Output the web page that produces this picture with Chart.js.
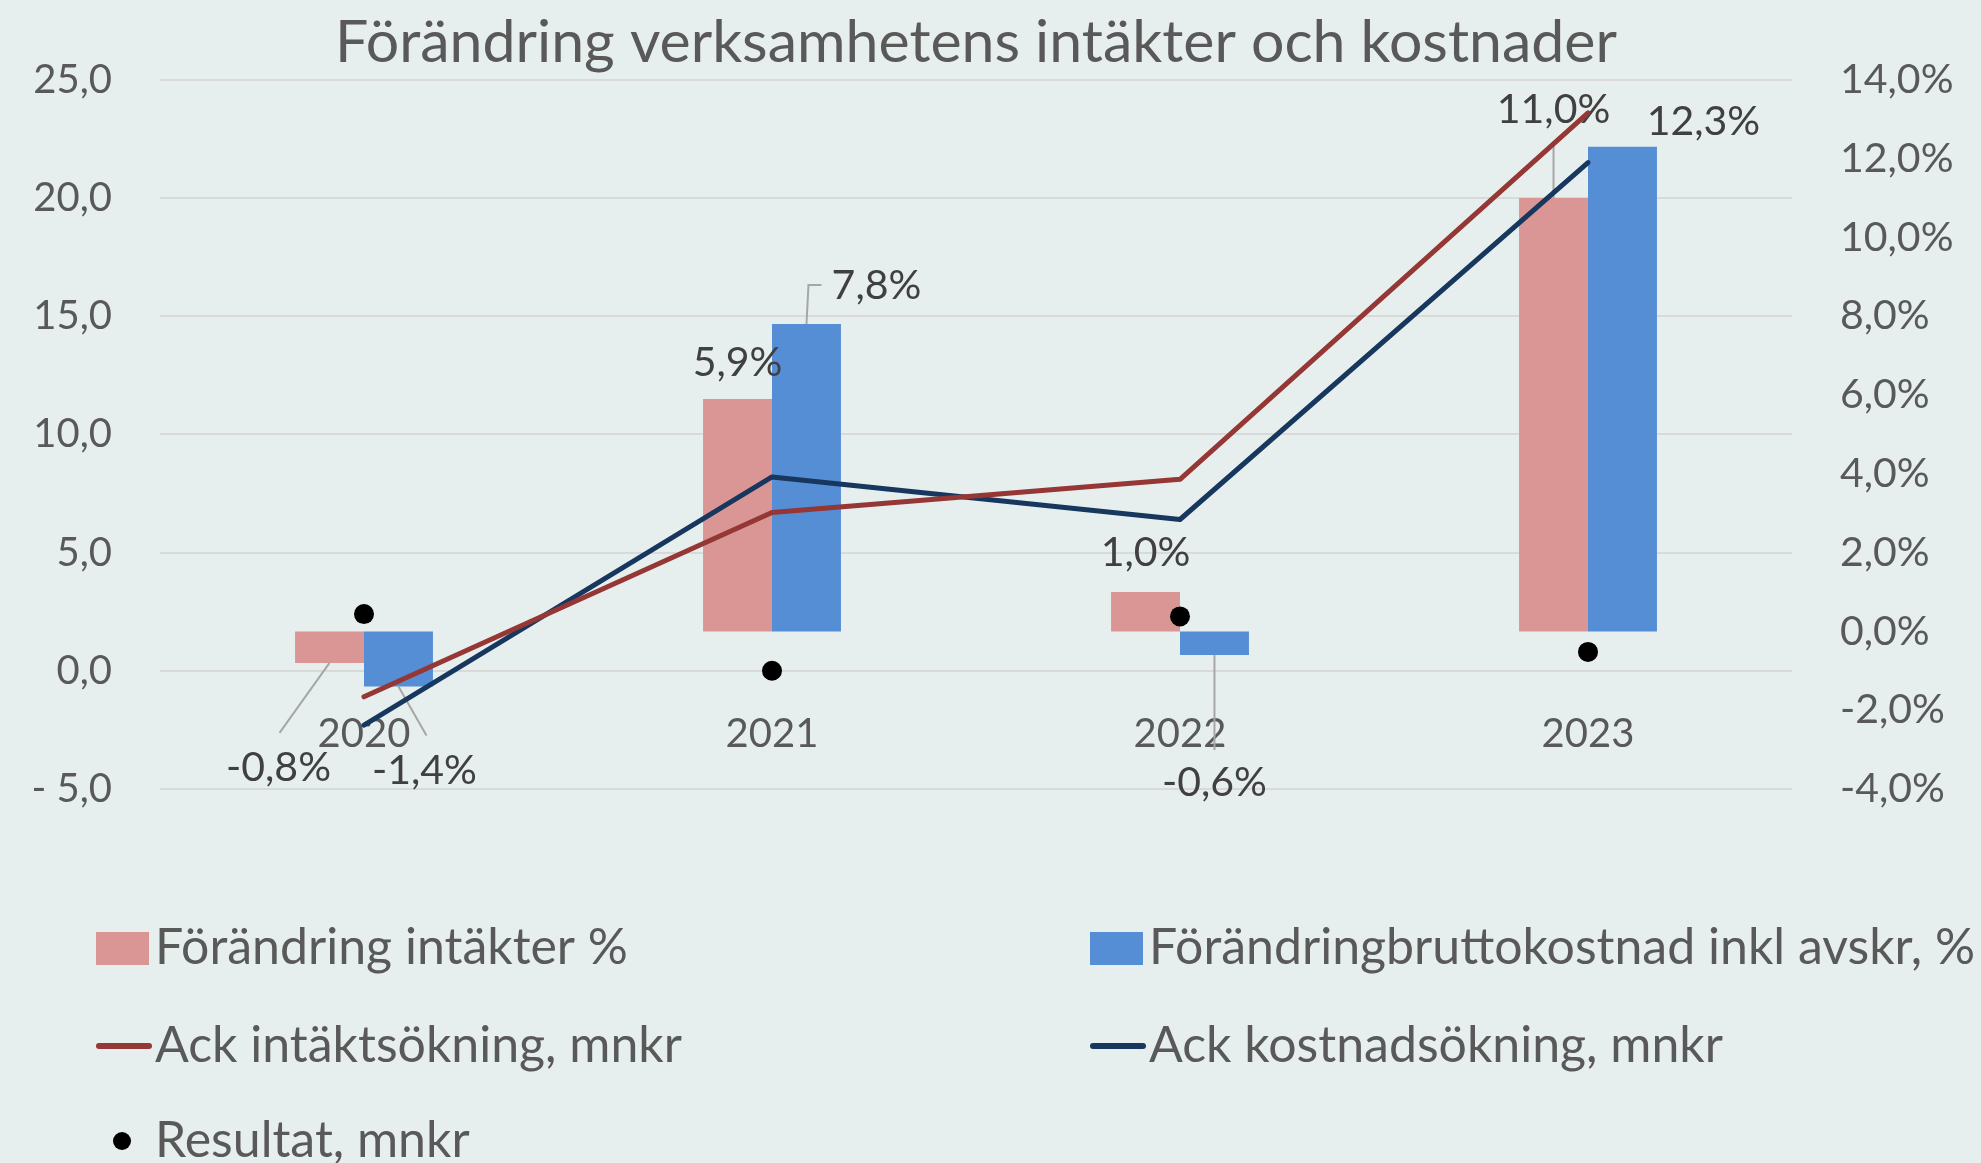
<!DOCTYPE html>
<html>
<head>
<meta charset="utf-8">
<script src="https://cdn.jsdelivr.net/npm/chart.js@4.4.1/dist/chart.umd.min.js"></script>
<style>
  html, body { margin: 0; padding: 0; background: #E7EFEE; }
</style>
</head>
<body>
<canvas id="myChart" width="1981" height="1163"></canvas>
<script>
// Data
const years = ["2020", "2021", "2022", "2023"];
const intakterPct = [-0.8, 5.9, 1.0, 11.0];      // Förändring intäkter %
const kostnadPct = [-1.4, 7.8, -0.6, 12.3];      // Förändringbruttokostnad inkl avskr, %
const ackIntakt = [-1.1, 6.7, 8.1, 23.6];        // Ack intäktsökning, mnkr
const ackKostnad = [-2.3, 8.2, 6.4, 21.5];       // Ack kostnadsökning, mnkr
const resultat = [2.4, 0.0, 2.3, 0.8];           // Resultat, mnkr

const seriesNames = [
    "Förändring intäkter %",
    "Förändringbruttokostnad inkl avskr, %",
    "Ack intäktsökning, mnkr",
    "Ack kostnadsökning, mnkr",
    "Resultat, mnkr"
];

// label placement (pixels, relative to bar end) and leader points (relative to label)
const labelLayout = [
    [{dx: -51, dy: 105, leader: [[1, -35]]}, {dx: 0, dy: -36}, {dx: 0, dy: -39}, {dx: 0, dy: -88, leader: [[0, 33]]}],
    [{dx: 26, dy: 84, leader: [[2, -35]]}, {dx: 70, dy: -38, leader: [[-68, -1], [-55, -1]]}, {dx: 0, dy: 128, leader: [[0, -33]]}, {dx: 81, dy: -25}]
];

// legend grid
const legendCols = [96, 1090];
const legendRows = [948, 1046, 1141];

const textColor = "#595959";
Chart.defaults.font.family = "Lato";

function comma(v, d) {
    return v.toFixed(d).replace(".", ",");
}

//Bar data labels with leader lines
const barLabels = {
    id: "barLabels",
    afterDatasetDraw(chart, args) {
        const i = args.index;
        if (i > 1) return;
        const ctx = chart.ctx;
        ctx.save();
        ctx.font = "41px Lato";
        ctx.textAlign = "center";
        ctx.textBaseline = "middle";
        args.meta.data.forEach((bar, j) => {
            const lay = labelLayout[i][j];
            const lx = bar.x + lay.dx;
            const ly = bar.y + lay.dy;
            if (lay.leader) {
                ctx.beginPath();
                ctx.moveTo(bar.x, bar.y);
                lay.leader.forEach(p => ctx.lineTo(lx + p[0], ly + p[1]));
                ctx.strokeStyle = "#A6A6A6";
                ctx.lineWidth = 2;
                ctx.stroke();
            }
            const v = chart.data.datasets[i].data[j];
            ctx.fillStyle = "#404040";
            ctx.fillText(comma(v, 1) + "%", lx, ly);
        });
        ctx.restore();
    }
};

//Two column legend
const legendGrid = {
    id: "legendGrid",
    afterDraw(chart) {
        const ctx = chart.ctx;
        ctx.save();
        ctx.font = "50px Lato";
        ctx.textAlign = "left";
        ctx.textBaseline = "middle";
        chart.data.datasets.forEach((ds, k) => {
            const x = legendCols[k % 2];
            const y = legendRows[Math.floor(k / 2)];
            if (ds.type === "bar") {
                ctx.fillStyle = ds.backgroundColor;
                ctx.fillRect(x, y - 16, 53, 33);
            } else if (ds.showLine === false) {
                ctx.fillStyle = ds.pointBackgroundColor;
                ctx.beginPath();
                ctx.arc(x + 26, y, 9, 0, Math.PI * 2);
                ctx.fill();
            } else {
                ctx.strokeStyle = ds.borderColor;
                ctx.lineWidth = 6;
                ctx.lineCap = "round";
                ctx.beginPath();
                ctx.moveTo(x + 3, y);
                ctx.lineTo(x + 53, y);
                ctx.stroke();
            }
            ctx.fillStyle = textColor;
            ctx.fillText(ds.label, x + 59, y);
        });
        ctx.restore();
    }
};

const ctx = document.getElementById("myChart");
const data = {
    labels: years,
    datasets: [
        {
            type: "bar",
            label: seriesNames[0],
            data: intakterPct,
            backgroundColor: "#DA9694",
            yAxisID: "y1",
            order: 3,
            barPercentage: 1,
            categoryPercentage: 0.338,
        },
        {
            type: "bar",
            label: seriesNames[1],
            data: kostnadPct,
            backgroundColor: "#558ED5",
            yAxisID: "y1",
            order: 3,
            barPercentage: 1,
            categoryPercentage: 0.338,
        },
        {
            type: "line",
            label: seriesNames[2],
            data: ackIntakt,
            borderColor: "#953735",
            borderWidth: 5,
            borderCapStyle: "round",
            borderJoinStyle: "round",
            pointRadius: 0,
            tension: 0,
            yAxisID: "y",
            order: 2,
        },
        {
            type: "line",
            label: seriesNames[3],
            data: ackKostnad,
            borderColor: "#17375E",
            borderWidth: 5,
            borderCapStyle: "round",
            borderJoinStyle: "round",
            pointRadius: 0,
            tension: 0,
            yAxisID: "y",
            order: 2,
        },
        {
            type: "line",
            label: seriesNames[4],
            data: resultat,
            showLine: false,
            pointRadius: 10,
            pointBorderWidth: 0,
            pointBackgroundColor: "#000000",
            yAxisID: "y",
            order: 1,
        },
    ],
};

const config = {
    type: "bar",
    data,
    options: {
        responsive: false,
        animation: false,
        devicePixelRatio: 1,
        layout: {
            padding: {top: 0, bottom: 374, left: 0, right: 0},
        },
        plugins: {
            legend: {display: false},
            tooltip: {enabled: false},
            title: {
                display: true,
                text: "Förändring verksamhetens intäkter och kostnader",
                fullSize: false,
                color: textColor,
                font: {size: 59, weight: "normal", lineHeight: 1.2},
                padding: {top: 8, bottom: 1},
            },
        },
        scales: {
            x: {
                type: "category",
                position: {y: 0},
                offset: true,
                grid: {display: false, drawTicks: false},
                border: {display: false},
                ticks: {color: textColor, font: {size: 40}, padding: 39, maxRotation: 0},
            },
            y: {
                position: "left",
                min: -5,
                max: 25,
                grid: {color: "#D9D9D9", lineWidth: 2, drawTicks: false},
                border: {display: false},
                ticks: {
                    stepSize: 5,
                    color: textColor,
                    font: {size: 40},
                    padding: 48,
                    callback: v => v < 0 ? "- " + comma(Math.abs(v), 1) : comma(v, 1),
                },
                afterFit(scale) { scale.width = 160; },
            },
            y1: {
                position: "right",
                min: -4,
                max: 14,
                grid: {display: false, drawTicks: false},
                border: {display: false},
                ticks: {
                    stepSize: 2,
                    color: textColor,
                    font: {size: 41},
                    padding: 48,
                    callback: v => comma(v, 1) + "%",
                },
                afterFit(scale) { scale.width = 189; },
            },
        },
    },
    plugins: [barLabels, legendGrid],
};
const myChart = new Chart(ctx, config);
</script>
</body>
</html>
